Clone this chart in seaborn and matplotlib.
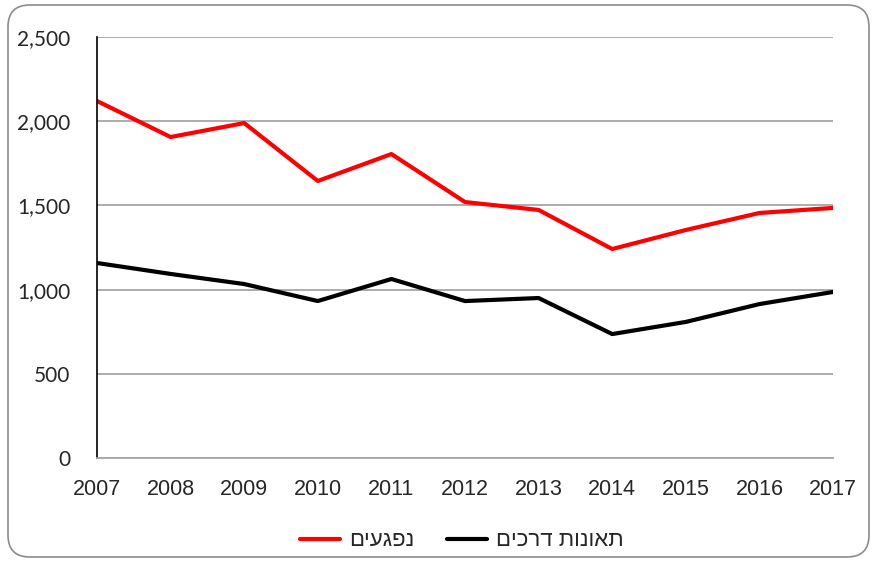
import numpy as np
import pandas as pd
import matplotlib
matplotlib.use("Agg")
import matplotlib.pyplot as plt
import seaborn as sns
from matplotlib.patches import FancyBboxPatch
from matplotlib.ticker import FuncFormatter

# data
years = [2007, 2008, 2009, 2010, 2011, 2012, 2013, 2014, 2015, 2016, 2017]
injured = [2120, 1906, 1989, 1645, 1805, 1520, 1473, 1241, 1354, 1455, 1485]
accidents = [1158, 1093, 1033, 932, 1063, 932, 950, 736, 808, 914, 986]

# Hebrew labels (reversed, matplotlib has no bidi)
label_injured = "נפגעים"[::-1]
label_accidents = "תאונות דרכים"[::-1]

sns.set_style("white")
plt.rcParams['font.family'] = ['Liberation Sans', 'DejaVu Sans']

fig = plt.figure(figsize=(8.72, 5.61), dpi=100)
ax = fig.add_axes([97 / 872, 1 - 458 / 561, (833 - 97) / 872, (458 - 37) / 561])

df = pd.DataFrame({'year': years, 'injured': injured, 'accidents': accidents})
sns.lineplot(data=df, x='year', y='injured', ax=ax, color='#ff0000', linewidth=3, label=label_injured)
sns.lineplot(data=df, x='year', y='accidents', ax=ax, color='black', linewidth=3, label=label_accidents)

ax.set_xlim(2007, 2017)
ax.set_ylim(0, 2500)
ax.set_xticks(years)
ax.set_yticks(np.arange(0, 2501, 500))
ax.yaxis.set_major_formatter(FuncFormatter(lambda v, p: f"{int(v):,}"))
ax.set_xlabel('')
ax.set_ylabel('')
ax.grid(axis='y', color='#a6a6a6', linewidth=1.3)
ax.grid(axis='x', visible=False)
ax.tick_params(axis='x', length=0, pad=15, labelsize=15.5)
ax.tick_params(axis='y', length=0, pad=19, labelsize=15)
for lbl in ax.get_yticklabels():
    lbl.set_family(['Lato', 'DejaVu Sans'])

for side in ['top', 'right']:
    ax.spines[side].set_visible(False)
ax.spines['left'].set_color('black')
ax.spines['left'].set_linewidth(1.2)
ax.spines['bottom'].set_color('#a6a6a6')
ax.spines['bottom'].set_linewidth(1.3)

ax.legend_.remove()
handles, labels = ax.get_legend_handles_labels()
fig.legend(handles, labels, loc='center', bbox_to_anchor=(462 / 872, 1 - 541 / 561),
           ncol=2, frameon=False, fontsize=16, handlelength=1.8, columnspacing=1.5,
           handletextpad=0.4)

border = FancyBboxPatch((8 / 872, 4 / 561), (869 - 8) / 872, (556 - 4) / 561,
                        boxstyle="round,pad=0,rounding_size=0.025",
                        transform=fig.transFigure, facecolor='none',
                        edgecolor='#8c8c8c', linewidth=1.2, mutation_aspect=872 / 561)
fig.patches.append(border)

fig.savefig('out.png', dpi=100)
